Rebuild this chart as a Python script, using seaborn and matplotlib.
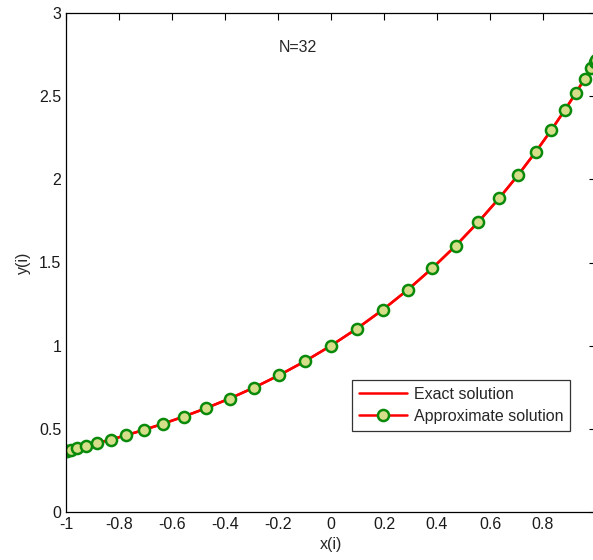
import matplotlib
matplotlib.use("Agg")
import matplotlib.pyplot as plt
import numpy as np
import seaborn as sns

# Chebyshev nodes (N=32)
x_nodes = [-1.0, -0.99518, -0.98079, -0.95694, -0.92388, -0.88192, -0.83147, -0.77301,
           -0.70711, -0.63439, -0.55557, -0.47140, -0.38268, -0.29028, -0.19509, -0.09802,
           0.0, 0.09802, 0.19509, 0.29028, 0.38268, 0.47140, 0.55557, 0.63439,
           0.70711, 0.77301, 0.83147, 0.88192, 0.92388, 0.95694, 0.98079, 0.99518, 1.0]
y_exact = [0.3679, 0.3697, 0.3750, 0.3841, 0.3970, 0.4140, 0.4354, 0.4616,
           0.4931, 0.5303, 0.5737, 0.6241, 0.6820, 0.7480, 0.8228, 0.9066,
           1.0, 1.1030, 1.2154, 1.3368, 1.4662, 1.6022, 1.7429, 1.8859,
           2.0281, 2.1663, 2.2967, 2.4155, 2.5190, 2.6037, 2.6665, 2.7052, 2.7183]
y_approx = [0.3679, 0.3697, 0.3750, 0.3841, 0.3970, 0.4140, 0.4354, 0.4616,
            0.4931, 0.5303, 0.5737, 0.6241, 0.6820, 0.7480, 0.8228, 0.9066,
            1.0, 1.1030, 1.2154, 1.3368, 1.4662, 1.6022, 1.7429, 1.8859,
            2.0281, 2.1663, 2.2967, 2.4155, 2.5190, 2.6037, 2.6665, 2.7052, 2.7183]
x_ticks = [-1, -0.8, -0.6, -0.4, -0.2, 0, 0.2, 0.4, 0.6, 0.8, 1]
x_labels = ['-1', '-0.8', '-0.6', '-0.4', '-0.2', '0', '0.2', '0.4', '0.6', '0.8', '']
y_ticks = [0, 0.5, 1, 1.5, 2, 2.5, 3]
y_labels = ['0', '0.5', '1', '1.5', '2', '2.5', '3']

sns.set_style("white")
plt.rcParams['font.family'] = ['Liberation Sans', 'DejaVu Sans']

fig = plt.figure(figsize=(5.93, 5.60), dpi=100)
# axes runs past the right edge, as in the cropped original
ax = fig.add_axes([66 / 593, 48 / 560, 530 / 593, 499 / 560])

sns.lineplot(x=x_nodes, y=y_exact, color='red', linewidth=1.8,
             label='Exact solution', ax=ax, sort=False)
sns.lineplot(x=x_nodes, y=y_approx, color='red', linewidth=1.8,
             marker='o', markersize=8, markerfacecolor='#d6de8a',
             markeredgecolor='#0a8a0a', markeredgewidth=1.8,
             label='Approximate solution', ax=ax, sort=False)

ax.set_xlim(-1, 1)
ax.set_ylim(0, 3)
ax.set_xticks(x_ticks)
ax.set_xticklabels(x_labels)
ax.set_yticks(y_ticks)
ax.set_yticklabels(y_labels)
ax.tick_params(axis='both', which='both', direction='in', top=True, right=True,
               length=5, width=0.8, color='black', labelsize=11.5, labelcolor='#1a1a1a')
for s in ax.spines.values():
    s.set_color('black')
    s.set_linewidth(0.9)

ax.set_xlabel('x(i)', fontsize=11.5, labelpad=4)
ax.set_ylabel('y(i)', fontsize=11.5, labelpad=6)
ax.text(-0.125, 2.79, 'N=32', fontsize=11.5, ha='center', va='center')

leg = ax.legend(loc='lower left', bbox_to_anchor=(0.540, 0.162), borderaxespad=0,
                fontsize=11.5, frameon=True, fancybox=False, edgecolor='black',
                borderpad=0.45, handlelength=3.0, handletextpad=0.4, labelspacing=0.45)
leg.get_frame().set_linewidth(0.9)

fig.savefig('out.png', dpi=100)
